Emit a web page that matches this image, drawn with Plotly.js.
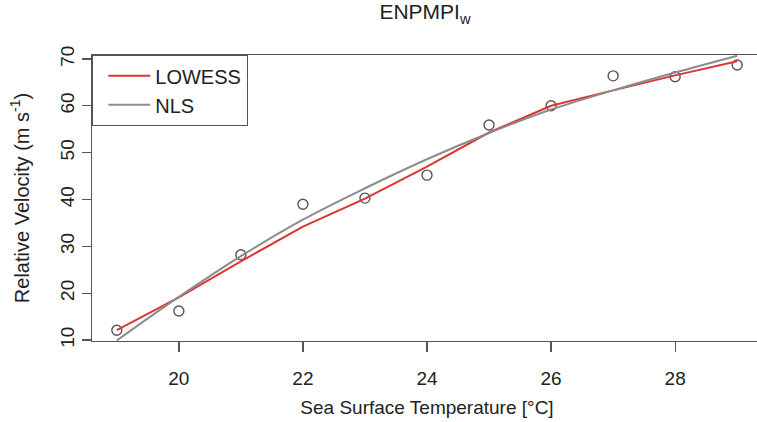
<!DOCTYPE html>
<html>
<head>
<meta charset="utf-8">
<script src="https://cdn.plot.ly/plotly-3.0.1.min.js"></script>
<style>
html, body { margin: 0; padding: 0; overflow: hidden; background: #fff; }
#chart { width: 766px; height: 422px; }
</style>
</head>
<body>
<div id="chart"></div>
<script>
// Observed data (sea surface temperature vs relative velocity)
const sst = [19, 20, 21, 22, 23, 24, 25, 26, 27, 28, 29];
const velocity = [12.1, 16.2, 28.2, 39.0, 40.3, 45.2, 55.9, 60.0, 66.4, 66.2, 68.7];

// Fitted curves evaluated at the same temperatures
const fitX = [19, 20, 21, 22, 23, 24, 25, 26, 27, 28, 29];
const lowessY = [12.1, 19.1, 26.8, 34.2, 40.2, 47.0, 54.3, 60.0, 63.3, 66.5, 69.5];
const nlsY = [9.9, 19.2, 27.9, 35.7, 42.4, 48.6, 54.2, 59.2, 63.3, 67.1, 70.7];

const xTicks = [20, 22, 24, 26, 28];
const yTicks = [10, 20, 30, 40, 50, 60, 70];

const FONT = 'Liberation Sans, Arial, Helvetica, sans-serif';
const TXT = '#222222';
const AX = '#555555';

const traces = [
  {
    x: sst, y: velocity, type: 'scatter', mode: 'markers', showlegend: false,
    marker: { symbol: 'circle-open', size: 10, color: '#555555', line: { width: 1.4, color: '#555555' } },
    hoverinfo: 'x+y'
  },
  {
    x: fitX, y: lowessY, type: 'scatter', mode: 'lines', name: 'LOWESS',
    line: { color: '#dd3535', width: 2 }
  },
  {
    x: fitX, y: nlsY, type: 'scatter', mode: 'lines', name: 'NLS',
    line: { color: '#8c8c8c', width: 2, shape: 'spline' }
  }
];

const layout = {
  width: 766, height: 422,
  margin: { l: 92, r: 4, t: 55, b: 81 },
  paper_bgcolor: '#ffffff', plot_bgcolor: '#ffffff',
  font: { family: FONT, color: TXT, size: 19 },
  title: {
    text: 'ENPMPI<sub>w</sub>',
    font: { family: FONT, size: 21, color: TXT },
    xref: 'paper', x: 0.497, xanchor: 'center',
    yref: 'container', y: 0.972, yanchor: 'middle'
  },
  xaxis: {
    range: [18.6, 29.4], tickvals: xTicks, ticktext: xTicks.map(String),
    showgrid: false, zeroline: false,
    showline: true, linecolor: AX, linewidth: 1.3, mirror: true,
    ticks: 'outside', ticklen: 10, tickwidth: 1.3, tickcolor: AX,
    ticklabelstandoff: 10,
    tickfont: { family: FONT, size: 19, color: TXT },
    title: { text: 'Sea Surface Temperature [°C]', font: { family: FONT, size: 19, color: TXT }, standoff: 12 }
  },
  yaxis: {
    range: [9.79, 70.85], tickvals: yTicks, ticktext: yTicks.map(String),
    showgrid: false, zeroline: false,
    showline: true, linecolor: AX, linewidth: 1.3, mirror: true,
    ticks: 'outside', ticklen: 9, tickwidth: 1.3, tickcolor: AX,
    tickangle: -90, ticklabelstandoff: 0,
    tickfont: { family: FONT, size: 19, color: TXT },
    title: { text: 'Relative Velocity (m s<sup>-1</sup>)', font: { family: FONT, size: 20, color: TXT }, standoff: 22 }
  },
  legend: {
    x: 0, y: 1, xref: 'paper', yref: 'paper', xanchor: 'left', yanchor: 'top',
    bgcolor: '#ffffff', bordercolor: AX, borderwidth: 1.3,
    font: { family: FONT, size: 20, color: TXT },
    indentation: 10,
    itemwidth: 42
  },
  showlegend: true
};

Plotly.newPlot('chart', traces, layout, { displayModeBar: false, staticPlot: true });
</script>
</body>
</html>
